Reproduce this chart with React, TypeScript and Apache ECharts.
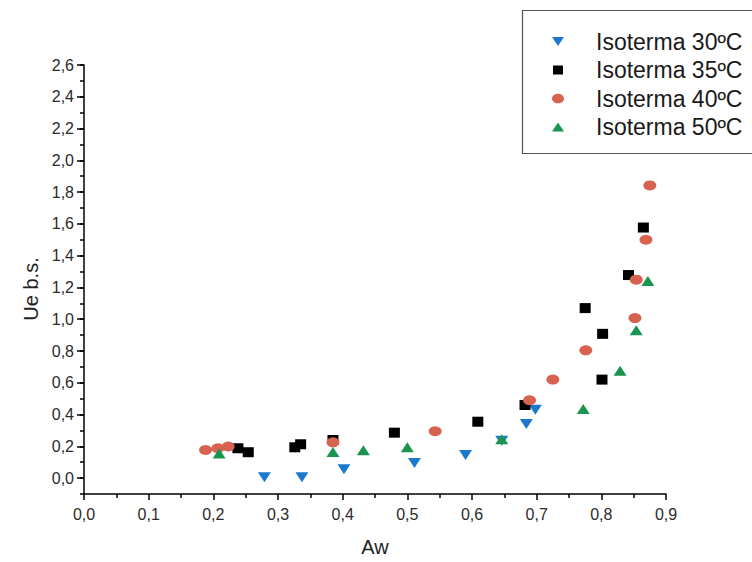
import React, { useEffect, useRef } from "react";
import * as echarts from "echarts";

// Water activity (Aw) and equilibrium moisture (Ue, dry basis) for each isotherm
const aw30 = [0.279, 0.337, 0.402, 0.511, 0.59, 0.646, 0.684, 0.698];
const ue30 = [0.005, 0.005, 0.055, 0.095, 0.145, 0.235, 0.34, 0.43];

const aw35 = [0.238, 0.254, 0.326, 0.335, 0.385, 0.48, 0.609, 0.682, 0.775, 0.801, 0.802, 0.842, 0.865];
const ue35 = [0.188, 0.163, 0.194, 0.213, 0.24, 0.286, 0.355, 0.46, 1.07, 0.62, 0.908, 1.278, 1.577];

const aw40 = [0.188, 0.207, 0.223, 0.385, 0.543, 0.689, 0.725, 0.776, 0.852, 0.854, 0.869, 0.875];
const ue40 = [0.177, 0.188, 0.199, 0.225, 0.295, 0.49, 0.62, 0.804, 1.007, 1.249, 1.5, 1.842];

const aw50 = [0.209, 0.385, 0.432, 0.5, 0.646, 0.772, 0.829, 0.854, 0.872];
const ue50 = [0.155, 0.165, 0.175, 0.195, 0.245, 0.435, 0.675, 0.93, 1.24];

const seriesNames = ["Isoterma 30ºC", "Isoterma 35ºC", "Isoterma 40ºC", "Isoterma 50ºC"];
const yTickValues = [0, 0.2, 0.4, 0.6, 0.8, 1.0, 1.2, 1.4, 1.6, 1.8, 2.0, 2.2, 2.4, 2.6];

const FONT = "'Liberation Sans', Arial, Helvetica, sans-serif";
const BLUE = "#1c78cc";
const BLACK = "#000000";
const RED = "#d6624f";
const GREEN = "#1a9550";

const pairs = (xs: number[], ys: number[]) => xs.map((x, i) => [x, ys[i]]);
const comma = (v: number) => v.toFixed(1).replace(".", ",");

export default function App() {
  const ref = useRef<HTMLDivElement>(null);

  useEffect(() => {
    if (!ref.current) return;
    const chart = echarts.init(ref.current, null, { renderer: "svg" });

    // hand-drawn legend box: symbol column and label column
    const legendRows = [41.5, 70, 98.5, 127];
    const symX = 558;
    const textX = 596;

    const legendSymbols: any[] = [
      {
        type: "polygon",
        z: 21,
        shape: { points: [[symX - 6, legendRows[0] - 4.5], [symX + 6, legendRows[0] - 4.5], [symX, legendRows[0] + 4.5]] },
        style: { fill: BLUE },
      },
      {
        type: "rect",
        z: 21,
        shape: { x: symX - 5, y: legendRows[1] - 4.5, width: 10, height: 9 },
        style: { fill: BLACK },
      },
      {
        type: "ellipse",
        z: 21,
        shape: { cx: symX, cy: legendRows[2], rx: 6, ry: 4.8 },
        style: { fill: RED },
      },
      {
        type: "polygon",
        z: 21,
        shape: { points: [[symX - 6, legendRows[3] + 4.5], [symX + 6, legendRows[3] + 4.5], [symX, legendRows[3] - 4.5]] },
        style: { fill: GREEN },
      },
    ];

    const legendTexts = seriesNames.map((name, i) => ({
      type: "text",
      z: 21,
      x: textX,
      y: legendRows[i],
      style: {
        text: name,
        font: `23px ${FONT}`,
        fill: "#1a1a1a",
        verticalAlign: "middle",
      },
    }));

    const option: any = {
      animation: false,
      backgroundColor: "#ffffff",
      grid: { left: 84, right: 86, top: 65, bottom: 66, containLabel: false },
      xAxis: {
        type: "value",
        min: 0,
        max: 0.9,
        interval: 0.1,
        name: "Aw",
        nameLocation: "middle",
        nameGap: 43,
        nameTextStyle: { fontSize: 20, color: "#222", fontFamily: FONT },
        axisLine: { show: true, onZero: false, lineStyle: { color: "#000", width: 1.5 } },
        axisTick: { show: true, inside: false, length: 6, lineStyle: { color: "#000", width: 1.5 } },
        minorTick: { show: true, splitNumber: 2, length: 4, lineStyle: { color: "#000", width: 1.5 } },
        splitLine: { show: false },
        axisLabel: { formatter: comma, fontSize: 16, color: "#2a2a2a", fontFamily: FONT, margin: 12 },
      },
      yAxis: [
        {
          type: "value",
          min: -0.1,
          max: 2.6,
          interval: 0.1,
          position: "left",
          axisLine: { show: true, onZero: false, lineStyle: { color: "#000", width: 1.5 } },
          axisTick: { show: true, inside: false, length: 4, lineStyle: { color: "#000", width: 1.5 } },
          axisLabel: { show: false },
          splitLine: { show: false },
        },
        {
          type: "value",
          min: -0.1,
          max: 2.6,
          interval: 0.1,
          position: "left",
          axisLine: { show: false },
          axisTick: { show: true, inside: false, length: 7, customValues: yTickValues, lineStyle: { color: "#000", width: 1.5 } },
          axisLabel: { customValues: yTickValues, formatter: comma, fontSize: 16, color: "#2a2a2a", fontFamily: FONT, margin: 10 },
          splitLine: { show: false },
        },
      ],
      series: [
        {
          name: seriesNames[0],
          type: "scatter",
          symbol: "triangle",
          symbolRotate: 180,
          symbolSize: [13, 10],
          itemStyle: { color: BLUE, opacity: 1 },
          data: pairs(aw30, ue30),
          z: 2,
        },
        {
          name: seriesNames[1],
          type: "scatter",
          symbol: "rect",
          symbolSize: [11, 10],
          itemStyle: { color: BLACK, opacity: 1 },
          data: pairs(aw35, ue35),
          z: 3,
        },
        {
          name: seriesNames[2],
          type: "scatter",
          symbol: "circle",
          symbolSize: [13, 10],
          itemStyle: { color: RED, opacity: 1 },
          data: pairs(aw40, ue40),
          z: 4,
        },
        {
          name: seriesNames[3],
          type: "scatter",
          symbol: "triangle",
          symbolSize: [13, 10],
          itemStyle: { color: GREEN, opacity: 1 },
          data: pairs(aw50, ue50),
          z: 5,
        },
      ],
      graphic: [
        {
          type: "rect",
          z: 20,
          shape: { x: 522.5, y: 10.5, width: 260, height: 143 },
          style: { fill: "#ffffff", stroke: "#555", lineWidth: 1.2 },
        },
        ...legendSymbols,
        ...legendTexts,
        {
          type: "text",
          x: 31,
          y: 289,
          rotation: Math.PI / 2,
          style: {
            text: "Ue b.s.",
            font: `20px ${FONT}`,
            fill: "#222",
            align: "center",
            verticalAlign: "middle",
          },
        },
      ],
    };

    chart.setOption(option);
    return () => chart.dispose();
  }, []);

  return (
    <div
      ref={ref}
      style={{ position: "absolute", left: 0, top: 0, width: 752, height: 562 }}
    />
  );
}
